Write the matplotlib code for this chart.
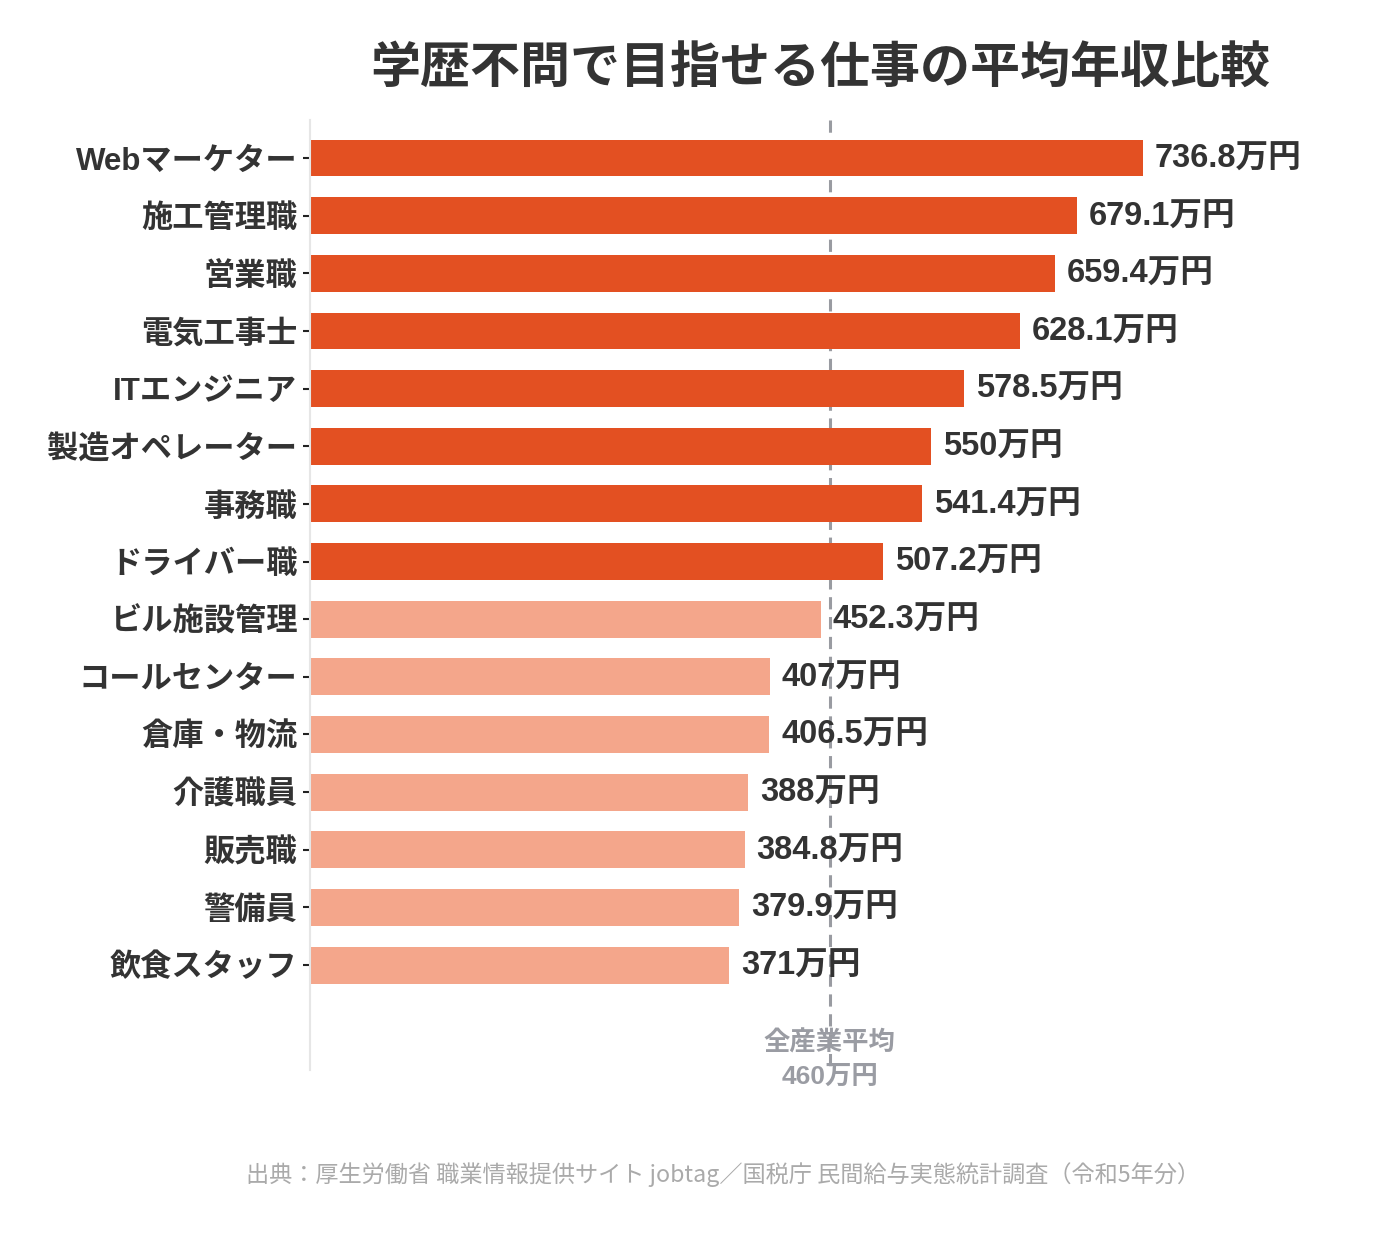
import matplotlib
matplotlib.use('Agg')
import matplotlib.pyplot as plt

plt.rcParams['font.family'] = ['Noto Sans CJK JP', 'DejaVu Sans']
MIXED = ['Liberation Sans', 'Noto Sans CJK JP']

# data
jobs = ['Webマーケター', '施工管理職', '営業職', '電気工事士', 'ITエンジニア', '製造オペレーター',
        '事務職', 'ドライバー職', 'ビル施設管理', 'コールセンター', '倉庫・物流', '介護職員',
        '販売職', '警備員', '飲食スタッフ']
salaries = [736.8, 679.1, 659.4, 628.1, 578.5, 550, 541.4, 507.2, 452.3, 407, 406.5, 388,
            384.8, 379.9, 371]
value_labels = ['736.8', '679.1', '659.4', '628.1', '578.5', '550', '541.4', '507.2', '452.3',
                '407', '406.5', '388', '384.8', '379.9', '371']
average = 460

HIGH = '#e35022'
LOW = '#f4a68b'

fig = plt.figure(figsize=(13.74, 12.33), dpi=100)
ax = fig.add_axes([0.2256, 0.1322, 0.7402, 0.7705])

colors = [HIGH if s > average else LOW for s in salaries]
y = list(range(len(jobs)))
ax.barh(y, salaries, height=0.64, color=colors, zorder=2)

for i, (s, lab) in enumerate(zip(salaries, value_labels)):
    ax.text(s + 10.5, i + 0.02, lab + '万円', va='center', ha='left', fontsize=23.5,
            fontweight='bold', color='#333333', zorder=3, family=MIXED)

# average line
ax.vlines(average, -0.66, 15.75, color='#999ba1', linestyle=(0, (4, 2.5)), linewidth=2.2,
          zorder=1)
ax.set_ylim(15.82, -0.66)
ax.set_xlim(0, 900)
ax.text(average, 15.36, '全産業平均', ha='center', va='center', fontsize=19,
        fontweight='bold', color='#9a9ca3')
ax.text(average, 15.93, '460万円', ha='center', va='center', fontsize=19,
        fontweight='bold', color='#9a9ca3', family=MIXED)

ax.set_yticks(y)
ax.set_yticklabels(jobs, fontsize=22.5, fontweight='bold', color='#333333', family=MIXED)
ax.tick_params(axis='y', length=5, width=1.5, color='#222222', pad=4)
ax.set_xticks([])

for side in ['top', 'right', 'bottom']:
    ax.spines[side].set_visible(False)
ax.spines['left'].set_color('#e6e6e6')
ax.spines['left'].set_linewidth(1.5)

fig.text(0.597, 0.945, '学歴不問で目指せる仕事の平均年収比較', ha='center', va='center',
         fontsize=36, fontweight='bold', color='#333333')
fig.text(0.526, 0.047, '出典：厚生労働省 職業情報提供サイト jobtag／国税庁 民間給与実態統計調査（令和5年分）',
         ha='center', va='center', fontsize=16.7, color='#aaaaaa')

fig.savefig('out.png', dpi=100)
